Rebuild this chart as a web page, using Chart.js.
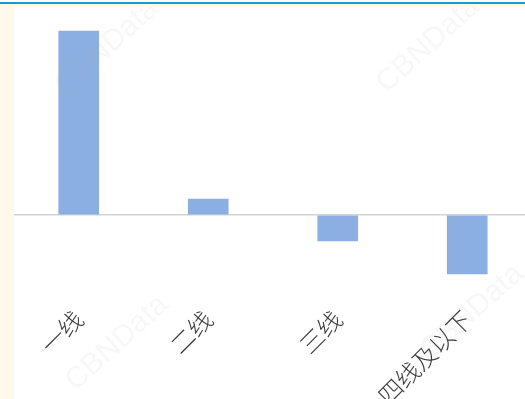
<!DOCTYPE html>
<html>
<head>
<meta charset="utf-8">
<script src="https://cdn.jsdelivr.net/npm/chart.js@4.4.1/dist/chart.umd.min.js"></script>
<style>
  html, body { margin: 0; padding: 0; }
  body {
    width: 525px; height: 399px; overflow: hidden; position: relative;
    background: #fff9ec;
  }
  #topline {
    position: absolute; left: 0; top: 0; width: 525px; height: 2px; background: #ffffff;
    border-bottom: 2px solid #0b9fe1;
  }
  #wrap { position: absolute; left: 14px; top: 7px; width: 518px; height: 392px; background: #ffffff; }
  canvas { display: block; }
</style>
</head>
<body>
<div id="topline"></div>
<div id="wrap"><canvas id="c" width="518" height="392"></canvas></div>
<script>
// city tiers and their change values
const categories = ['一线', '二线', '三线', '四线及以下'];
const values = [18.4, 1.6, -2.6, -5.9];
const yMin = -8;
const yMax = 20;

// faint diagonal "CBNData" marks laid over the plot
const watermarkText = 'CBNData';
const watermarkPlugin = {
  id: 'watermark',
  afterDraw(chart) {
    const ctx = chart.ctx;
    const spots = [[93, 40], [414, 38], [103, 336], [458, 305]];
    ctx.save();
    ctx.font = '30px "Liberation Sans", Arial, sans-serif';
    ctx.fillStyle = 'rgba(170,170,170,0.09)';
    ctx.textAlign = 'center';
    ctx.textBaseline = 'middle';
    spots.forEach(([x, y]) => {
      ctx.save();
      ctx.translate(x, y);
      ctx.rotate(-42 * Math.PI / 180);
      ctx.fillText(watermarkText, 0, 0);
      ctx.restore();
    });
    ctx.restore();
  }
};

new Chart(document.getElementById('c'), {
  type: 'bar',
  data: {
    labels: categories,
    datasets: [{
      data: values,
      backgroundColor: '#8cafe1',
      borderWidth: 0,
      barThickness: 40
    }]
  },
  options: {
    responsive: false,
    animation: false,
    devicePixelRatio: 1,
    layout: { padding: { top: 8, left: 0, right: 0, bottom: 0 } },
    plugins: { legend: { display: false }, tooltip: { enabled: false } },
    scales: {
      x: {
        grid: { display: false },
        border: { display: false },
        ticks: {
          minRotation: 45,
          maxRotation: 45,
          padding: 2,
          color: '#3a3a3a',
          font: { family: '"Noto Sans CJK SC", sans-serif', size: 24, weight: 300 }
        },
        afterFit(scale) { scale.height = 104; }
      },
      y: {
        min: yMin,
        max: yMax,
        border: { display: false },
        grid: {
          drawTicks: false,
          lineWidth: 1.5,
          color: (c) => (c.tick && c.tick.value === 0 ? '#d3d3d3' : 'rgba(0,0,0,0)')
        },
        ticks: { display: false, stepSize: 4 },
        afterFit(scale) { scale.width = 0; }
      }
    }
  },
  plugins: [watermarkPlugin]
});
</script>
</body>
</html>
